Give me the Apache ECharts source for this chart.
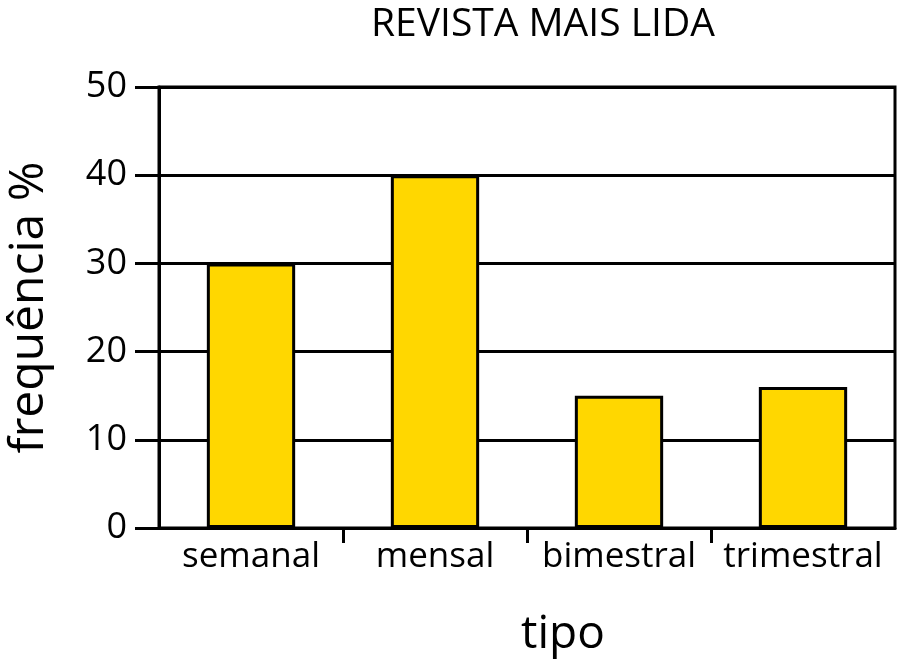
<!DOCTYPE html>
<html>
<head>
<meta charset="utf-8">
<script src="https://cdn.jsdelivr.net/npm/echarts@6/dist/echarts.min.js"></script>
<style>
  html, body { margin: 0; padding: 0; background: #fff; }
  #chart { width: 904px; height: 666px; }
</style>
</head>
<body>
<div id="chart"></div>
<script>
var categories = ['semanal', 'mensal', 'bimestral', 'trimestral'];
var frequencia = [30, 40, 15, 16];
var yTicks = [0, 10, 20, 30, 40, 50];
// divisões entre as categorias (so as internas tem marca)
var divisoes = [1, 2, 3];

var chart = echarts.init(document.getElementById('chart'));
var fontName = '"Open Sans", "Liberation Sans", sans-serif';

var option = {
    animation: false,
    backgroundColor: '#fff',
    title: {
        text: 'REVISTA MAIS LIDA',
        left: 366,
        top: 0,
        textStyle: {fontFamily: fontName, fontSize: 39, fontWeight: 'normal', color: '#000'}
    },
    grid: {
        left: 159, right: 9, top: 87, bottom: 138,
        outerBoundsMode: 'none',
        containLabel: false,
        show: true, borderColor: '#000', borderWidth: 3, backgroundColor: 'transparent'
    },
    xAxis: [{
        type: 'category',
        data: categories,
        name: 'tipo',
        nameLocation: 'middle',
        nameGap: 84,
        nameTextStyle: {fontFamily: fontName, fontSize: 46, color: '#000', padding: [0, 0, 0, 72]},
        axisLine: {lineStyle: {color: '#000', width: 3}},
        axisTick: {show: false},
        axisLabel: {fontFamily: fontName, fontSize: 35, color: '#000', margin: 12, interval: 0}
    }, {
        type: 'value',
        min: 0,
        max: 4,
        position: 'bottom',
        axisLine: {show: false},
        axisLabel: {show: false},
        splitLine: {show: false},
        axisTick: {show: true, customValues: divisoes, length: 15, lineStyle: {color: '#000', width: 3}}
    }],
    yAxis: {
        type: 'value',
        min: 0,
        max: 50,
        interval: 10,
        name: 'frequência %',
        nameLocation: 'middle',
        nameGap: 106,
        nameTextStyle: {fontFamily: fontName, fontSize: 48, color: '#000'},
        axisLine: {show: true, lineStyle: {color: '#000', width: 3}},
        axisTick: {show: true, length: 24, lineStyle: {color: '#000', width: 3}},
        axisLabel: {
            fontFamily: fontName, fontSize: 36, color: '#000', margin: 32,
            formatter: function (v) { return yTicks.indexOf(v) >= 0 ? String(v) : ''; }
        },
        splitLine: {show: true, lineStyle: {color: '#000', width: 3}}
    },
    series: [{
        type: 'bar',
        xAxisIndex: 0,
        data: frequencia,
        barWidth: '48%',
        itemStyle: {color: '#FFD700', borderColor: '#000', borderWidth: 3}
    }]
};

chart.setOption(option);
</script>
</body>
</html>
